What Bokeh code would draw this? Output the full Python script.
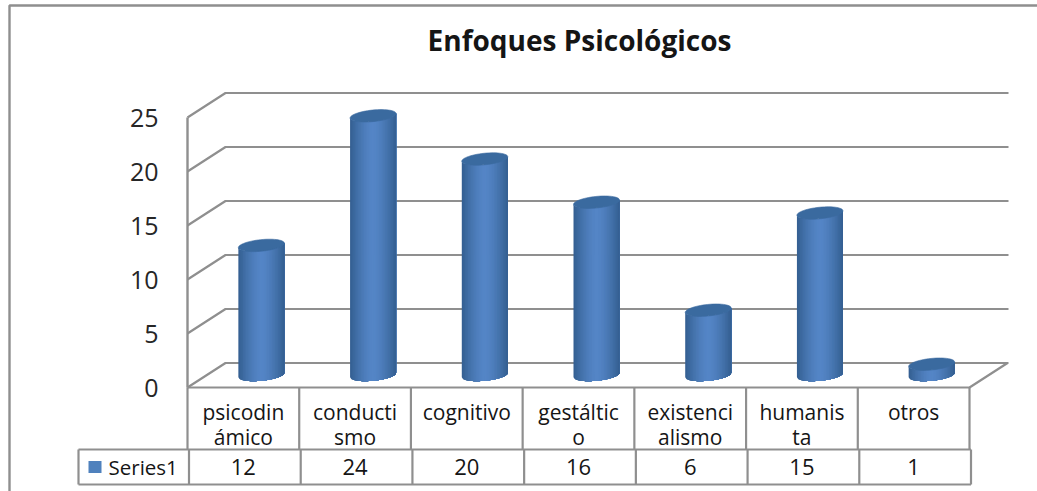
import numpy as np
from bokeh.plotting import figure
from bokeh.models import LinearAxis, FixedTicker, Range1d
from bokeh.core.properties import value
from bokeh.embed import file_html
from bokeh.resources import INLINE

title = "Enfoques Psicológicos"
categories = ["psicodin\námico", "conducti\nsmo", "cognitivo", "gestáltic\no", "existenci\nalismo", "humanis\nta", "otros"]
series_name = "Series1"
values = [12, 24, 20, 16, 6, 15, 1]
y_ticks = [0, 5, 10, 15, 20, 25]

W, H = 1037, 491
X0, X1, Y0 = 188, 970, 388      # front plane in picture pixels
UX = (X1 - X0) / len(values)    # px per category
UY = 10.8                       # px per value unit
DX, DY = 38, 24.5               # depth offset
GREY = "#8f8f8f"
FONT = "Open Sans"

def xd(px): return (px - X0) / UX
def yd(py): return (Y0 - py) / UY

p = figure(width=W, height=H, output_backend="svg", toolbar_location=None,
           x_range=Range1d(xd(1), xd(W + 1)), y_range=Range1d(yd(H + 1), yd(1)),
           x_axis_location=None, y_axis_location=None,
           min_border=0, min_border_left=0, min_border_right=0, min_border_top=0, min_border_bottom=0,
           outline_line_color=None, background_fill_color="white", margin=(0, 0, 0, 0))
p.grid.visible = False

def seg(xs_px, ys_px):
    p.line([xd(x) for x in xs_px], [yd(y) for y in ys_px], line_color=GREY, line_width=2.4)

# outer chart frame
seg([W + 2, 10, 10], [6, 6, H + 2])

# walls and floor
dxu, dyu = DX / UX, DY / UY
for t in y_ticks:
    p.line([0, dxu, xd(1009)], [t, t + dyu, t + dyu], line_color=GREY, line_width=2.2)
p.line([0, len(values), len(values) + dxu], [0, 0, dyu], line_color=GREY, line_width=2.2)

# value axis
axis = LinearAxis(ticker=FixedTicker(ticks=y_ticks), bounds=(0, 25), fixed_location=0,
                  major_tick_line_color=None, minor_tick_line_color=None,
                  axis_line_color=GREY, axis_line_width=2.4,
                  major_label_standoff=23, major_label_text_font=FONT,
                  major_label_text_font_size="25px", major_label_text_color="#262626")
p.add_layout(axis, "left")

# cylinders: shaded strips painted left to right, then the top ellipse
half_w = 23 / UX
bh, tilt = 5.8 / UY, 2.2 / UY
cz = 12.5 / UY
edges = np.linspace(-1, 1, 31)

def shade(t):
    a = np.array([0x34, 0x5F, 0x91]); b = np.array([0x55, 0x86, 0xC7])
    c = a + (b - a) * np.clip(1 - abs(t) ** 1.5, 0, 1)
    return "#%02x%02x%02x" % tuple(int(v) for v in c)

xs, ys, cols = [], [], []
txs, tys = [], []
for i, v in enumerate(values):
    cx = i + 0.5 + (DX / 2 - 1) / UX
    for a, b in zip(edges[:-1], edges[1:]):
        tt = np.linspace(a, 1, 40)
        low = cz - bh * np.sqrt(1 - tt ** 2) + tilt * tt
        up = cz + v - bh * np.sqrt(1 - tt ** 2) + tilt * tt
        xs.append(list(cx + half_w * tt) + list(cx + half_w * tt[::-1]))
        ys.append(list(low) + list(up[::-1]))
        cols.append(shade((a + b) / 2))
    th = np.linspace(0, 2 * np.pi, 60)
    txs.append(list(cx + half_w * np.cos(th)))
    tys.append(list(cz + v + bh * np.sin(th) + tilt * np.cos(th)))
p.patches(xs, ys, fill_color=cols, line_color=None)
p.patches(txs, tys, fill_color="#3a6a9f", line_color="#3a6a9f", line_width=0.6)

# data table
n = len(values)
y_row1, y_row2 = yd(450), yd(485)
for i in range(n + 1):
    p.line([i, i], [0, y_row1], line_color=GREY, line_width=2.2)
    p.line([i + 1.5 / UX] * 2, [y_row1, y_row2], line_color=GREY, line_width=2.2)
p.line([xd(79), n + 1.5 / UX], [y_row1, y_row1], line_color=GREY, line_width=2.2)
p.line([xd(79), n + 1.5 / UX], [y_row2, y_row2], line_color=GREY, line_width=2.2)
p.line([xd(79), xd(79)], [y_row1, y_row2], line_color=GREY, line_width=2.2)

line1 = [c.split("\n")[0] for c in categories]
line2 = [c.split("\n")[1] if "\n" in c else "" for c in categories]
cxs = [i + 0.5 for i in range(n)]
common = dict(text_font=value(FONT), text_color="#151515", text_align="center", text_baseline="middle")
p.text(cxs, [yd(412)] * n, text=line1, text_font_size="21px", **common)
p.text(cxs, [yd(437)] * n, text=line2, text_font_size="21px", **common)
p.text(cxs, [yd(467)] * n, text=[str(v) for v in values], text_font_size="22px", **common)

p.quad(left=[xd(89)], right=[xd(102)], top=[yd(461.5)], bottom=[yd(473.5)], fill_color="#4f81bd", line_color=None)
p.text([xd(109)], [yd(467)], text=[series_name], text_font=value(FONT), text_color="#151515",
       text_align="left", text_baseline="middle", text_font_size="20.5px")

# title
p.text([xd(580)], [yd(40)], text=[title], text_font=value(FONT), text_font_style="bold",
       text_color="#151515", text_align="center", text_baseline="middle", text_font_size="28px")

open("out.html", "w").write(file_html(p, INLINE))
